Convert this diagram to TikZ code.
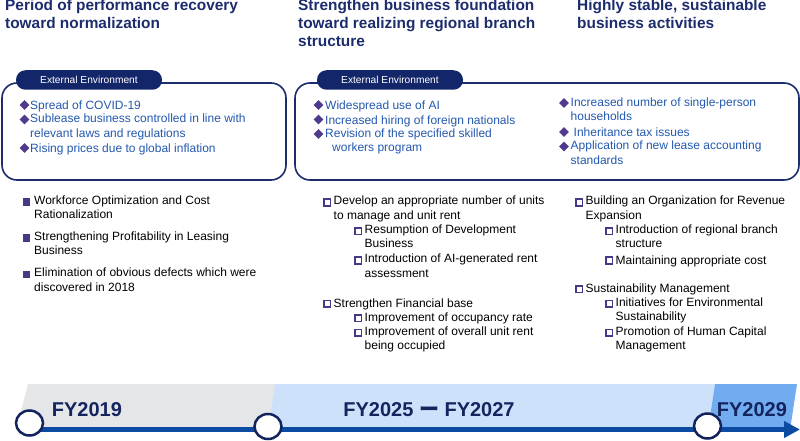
\documentclass[tikz,border=0pt]{standalone}
\usepackage{fontspec}
\setmainfont{Liberation Sans}
\newfontfamily\cjk{Noto Sans CJK JP}
\usetikzlibrary{shapes.geometric,arrows.meta}
\definecolor{ttlnavy}{HTML}{1C2C6C}
\definecolor{tabnavy}{HTML}{14266A}
\definecolor{envblue}{HTML}{2358AE}
\definecolor{diapurple}{HTML}{4F3A8E}
\definecolor{sqpurple}{HTML}{463A88}
\definecolor{lineblue}{HTML}{0B4CA2}
\definecolor{circnavy}{HTML}{13235E}
\definecolor{fynavy}{HTML}{14245F}
\definecolor{graybar}{HTML}{E5E6E8}
\definecolor{lightbar}{HTML}{CDE2FA}
\definecolor{darkbar}{HTML}{72ACF0}
\tikzset{
  ttl/.style={anchor=north west, yshift=12.6pt, execute at begin node=\strut,
    align=left, inner sep=0pt, text=ttlnavy,
    font=\bfseries\fontsize{15.4}{18}\selectfont},
  envbox/.style={draw=ttlnavy, line width=1.6pt, rounded corners=15pt},
  envtab/.style={fill=tabnavy, text=white, rounded corners=9.5pt,
    minimum width=146pt, minimum height=19.5pt, inner sep=0pt,
    font=\fontsize{10.2}{12}\selectfont},
  envtxt/.style={anchor=north west, yshift=10.08pt, execute at begin node=\strut,
    align=left, inner sep=0pt, text=envblue,
    font=\fontsize{12}{14.4}\selectfont},
  plntxt/.style={envtxt, text=black},
  dia/.style={diamond, fill=diapurple, inner sep=0pt, minimum width=10pt, minimum height=10pt},
  sqfill/.style={rectangle, fill=sqpurple, inner sep=0pt, minimum size=7.5pt},
  sqopen/.style={rectangle, draw=sqpurple, line width=1.6pt, fill=white,
    inner sep=0pt, minimum size=6.6pt},
  tlline/.style={draw=lineblue, line width=4.5pt, -{Triangle[length=16pt,width=16pt]}},
  milestone/.style={ellipse, draw=circnavy, line width=2.5pt, fill=white,
    minimum width=27pt, minimum height=25pt, inner sep=0pt},
  fy/.style={inner sep=0pt, text=fynavy, font=\bfseries\fontsize{20}{24}\selectfont}
}
\begin{document}
\begin{tikzpicture}[x=1pt,y=-1pt]
\useasboundingbox (0,0) rectangle (800,441);

% headings
\node[ttl] (ttl1) at (5,12) {Period of performance recovery\\toward normalization};
\node[ttl] (ttl2) at (298,12) {Strengthen business foundation\\toward realizing regional branch\\structure};
\node[ttl] (ttl3) at (577,12) {Highly stable, sustainable\\business activities};

% external environment boxes
\draw[envbox] (2,83) rectangle (286,180);
\node[envtab] (tab1) at (89,80) {External Environment};
\draw[envbox] (295,83) rectangle (799,180);
\node[envtab] (tab2) at (390,80) {External Environment};

\foreach \y/\t [count=\i] in {109.5/{Spread of COVID-19},
  124/{Sublease business controlled in line with\\relevant laws and regulations},
  152.5/{Rising prices due to global inflation}}
{\node[dia] (ea-d\i) at (24.5,\y-4.5) {};
 \node[envtxt] (ea-t\i) at (30,\y) {\t};}

\foreach \y/\t [count=\i] in {109.5/{Widespread use of AI},
  124/{Increased hiring of foreign nationals},
  138.5/{Revision of the specified skilled\\\hspace*{7pt}workers program}}
{\node[dia] (eb-d\i) at (318.5,\y-4.5) {};
 \node[envtxt] (eb-t\i) at (325,\y) {\t};}

\foreach \y/\t [count=\i] in {107.5/{Increased number of single-person\\households},
  136.5/{\hspace*{3pt}Inheritance tax issues},
  151/{Application of new lease accounting\\standards}}
{\node[dia] (ec-d\i) at (564,\y-4.5) {};
 \node[envtxt] (ec-t\i) at (570.5,\y) {\t};}

% measures
\foreach \y/\t [count=\i] in {205.7/{Workforce Optimization and Cost\\Rationalization},
  241.7/{Strengthening Profitability in Leasing\\Business},
  278/{Elimination of obvious defects which were\\discovered in 2018}}
{\node[sqfill] (ma-s\i) at (26.5,\y-3.7) {};
 \node[plntxt] (ma-t\i) at (34,\y) {\t};}

\foreach \x/\y/\t [count=\i] in {327/206/{Develop an appropriate number of units\\to manage and unit rent},
  358/234.7/{Resumption of Development\\Business},
  358/264/{Introduction of AI-generated rent\\assessment},
  327/307.3/{Strengthen Financial base},
  358/321.7/{Improvement of occupancy rate},
  358/336.3/{Improvement of overall unit rent\\being occupied}}
{\node[sqopen] (mb-s\i) at (\x,\y-3.5) {};
 \node[plntxt] (mb-t\i) at (\x+6.5,\y) {\t};}

\foreach \x/\y/\t [count=\i] in {579/206/{Building an Organization for Revenue\\Expansion},
  609/234.7/{Introduction of regional branch\\structure},
  609/264/{Maintaining appropriate cost},
  579/292.7/{Sustainability Management},
  609/307.3/{Initiatives for Environmental\\Sustainability},
  609/336.3/{Promotion of Human Capital\\Management}}
{\node[sqopen] (mc-s\i) at (\x,\y-3.5) {};
 \node[plntxt] (mc-t\i) at (\x+6.5,\y) {\t};}

% timeline
\fill[graybar] (28,384) -- (275,384) -- (268,430) -- (16,430) -- cycle;
\fill[lightbar] (275,384) -- (715,384) -- (708,430) -- (268,430) -- cycle;
\fill[darkbar] (715,384) -- (797,384) -- (790,430) -- (708,430) -- cycle;

\coordinate (tl-start) at (30,429.5);
\coordinate (tl-end) at (800,429.5);
\draw[tlline] (tl-start) -- (tl-end);

\node[milestone] (c1) at (29.5,423) {};
\node[milestone] (c2) at (268,426.5) {};
\node[milestone] (c3) at (707.5,426) {};

\node[fy, anchor=base west] (fy1) at (51.7,416.5) {FY2019};
\node[fy, anchor=base] (fy2) at (429,416) {FY2025 {\cjk ー} FY2027};
\node[fy, anchor=base west] (fy3) at (716.7,416) {FY2029};
\end{tikzpicture}
\end{document}
